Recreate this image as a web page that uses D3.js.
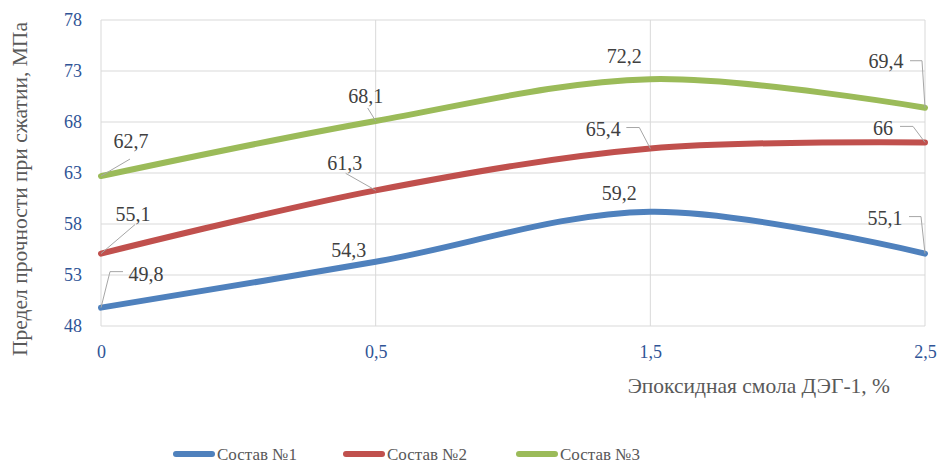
<!DOCTYPE html>
<html>
<head>
<meta charset="utf-8">
<script src="https://cdn.jsdelivr.net/npm/d3@7"></script>
<style>
  html, body { margin: 0; padding: 0; background: #fff; }
  svg { display: block; font-family: "Liberation Serif", "Times New Roman", serif; }
</style>
</head>
<body>
<svg id="chart" width="939" height="463"></svg>
<script>
// Categories on the x axis (epoxy resin content, %)
const categories = ["0", "0,5", "1,5", "2,5"];
// Compressive strength, MPa, for each composition
const series1 = [49.8, 54.3, 59.2, 55.1];
const series2 = [55.1, 61.3, 65.4, 66];
const series3 = [62.7, 68.1, 72.2, 69.4];
const seriesNames = ["Состав №1", "Состав №2", "Состав №3"];
const yTicks = [48, 53, 58, 63, 68, 73, 78];

const colors = ["#4f81bd", "#c0504d", "#9bbb59"];
const allSeries = [series1, series2, series3];

// Data-label placement: text centre offset (dx) and baseline offset (dy)
// from the point, plus an optional leader polyline (offsets from the point).
const labelLayout = [
  [ {dx: 45, dy: -27, lead: [[0,0],[9,-36],[22,-36]]},
    {dx: -27, dy: -5, lead: null},
    {dx: -31, dy: -12, lead: null},
    {dx: -40, dy: -29, lead: [[0,0],[-4,-37],[-16,-37]]} ],
  [ {dx: 32, dy: -33, lead: [[0,0],[34,-29]]},
    {dx: -31, dy: -20, lead: [[0,0],[-30,-17]]},
    {dx: -47, dy: -13, lead: [[0,0],[-11,-21],[-24,-21]]},
    {dx: -42, dy: -7, lead: [[0,0],[-12,-16],[-25,-16]]} ],
  [ {dx: 30, dy: -28, lead: [[0,0],[29,-17]]},
    {dx: -10, dy: -18, lead: [[0,0],[-8,-13]]},
    {dx: -26, dy: -16, lead: null},
    {dx: -39, dy: -40, lead: [[0,0],[-3,-47],[-15,-47]]} ]
];

const svg = d3.select("#chart");
const plot = {left: 101, right: 925, top: 20, bottom: 326};

const x = d3.scalePoint().domain(categories).range([plot.left, plot.right]);
const y = d3.scaleLinear().domain([48, 78]).range([plot.bottom, plot.top]);

const fmt = v => String(v).replace(".", ",");

// Gridlines
svg.append("g").selectAll("line.h").data(yTicks).join("line")
  .attr("x1", plot.left).attr("x2", plot.right)
  .attr("y1", d => y(d)).attr("y2", d => y(d))
  .attr("stroke", "#d9d9d9").attr("stroke-width", 1);
svg.append("g").selectAll("line.v").data(categories).join("line")
  .attr("x1", d => x(d)).attr("x2", d => x(d))
  .attr("y1", plot.top).attr("y2", plot.bottom)
  .attr("stroke", "#d9d9d9").attr("stroke-width", 1);

// Y axis tick labels
const yAxis = svg.append("g").attr("transform", `translate(${plot.left - 19},0)`)
  .call(d3.axisLeft(y).tickValues(yTicks).tickSize(0).tickPadding(0).tickFormat(d => d));
yAxis.select(".domain").remove();
yAxis.selectAll("text").attr("font-size", 18).attr("fill", "#2f5496")
  .attr("font-family", "Liberation Serif");

// X axis tick labels
const xAxis = svg.append("g").attr("transform", `translate(0,${plot.bottom + 19})`)
  .call(d3.axisBottom(x).tickSize(0).tickPadding(0));
xAxis.select(".domain").remove();
xAxis.selectAll("text").attr("font-size", 18).attr("fill", "#2f5496")
  .attr("font-family", "Liberation Serif");

// Series lines (smoothed)
const line = d3.line()
  .x((d, i) => x(categories[i]))
  .y(d => y(d))
  .curve(d3.curveCardinal.tension(0));

allSeries.forEach((s, k) => {
  svg.append("path").datum(s)
    .attr("d", line)
    .attr("fill", "none")
    .attr("stroke", colors[k])
    .attr("stroke-width", 6)
    .attr("stroke-linecap", "round")
    .attr("stroke-linejoin", "round");
});

// Data labels with leader lines
allSeries.forEach((s, k) => {
  s.forEach((v, i) => {
    const px = x(categories[i]), py = y(v);
    const L = labelLayout[k][i];
    if (L.lead) {
      svg.append("polyline")
        .attr("points", L.lead.map(p => `${px + p[0]},${py + p[1]}`).join(" "))
        .attr("fill", "none").attr("stroke", "#a6a6a6").attr("stroke-width", 1);
    }
    svg.append("text")
      .attr("x", px + L.dx).attr("y", py + L.dy)
      .attr("text-anchor", "middle")
      .attr("font-size", 20).attr("fill", "#404040")
      .text(fmt(v));
  });
});

// Axis titles
svg.append("text")
  .attr("transform", "translate(27,189) rotate(-90)")
  .attr("text-anchor", "middle")
  .attr("font-size", 21.5).attr("fill", "#595959")
  .text("Предел прочности при сжатии, МПа");

svg.append("text")
  .attr("x", 890).attr("y", 393)
  .attr("text-anchor", "end")
  .attr("font-size", 21.5).attr("fill", "#595959")
  .text("Эпоксидная смола ДЭГ-1, %");

// Legend
const legendX = [173, 343, 516];
seriesNames.forEach((name, k) => {
  const g = svg.append("g").attr("transform", `translate(${legendX[k]},454)`);
  g.append("line").attr("x1", 3).attr("x2", 39).attr("y1", 0).attr("y2", 0)
    .attr("stroke", colors[k]).attr("stroke-width", 6).attr("stroke-linecap", "round");
  g.append("text").attr("x", 44).attr("y", 6)
    .attr("font-size", 17).attr("fill", "#595959").text(name);
});
</script>
</body>
</html>
